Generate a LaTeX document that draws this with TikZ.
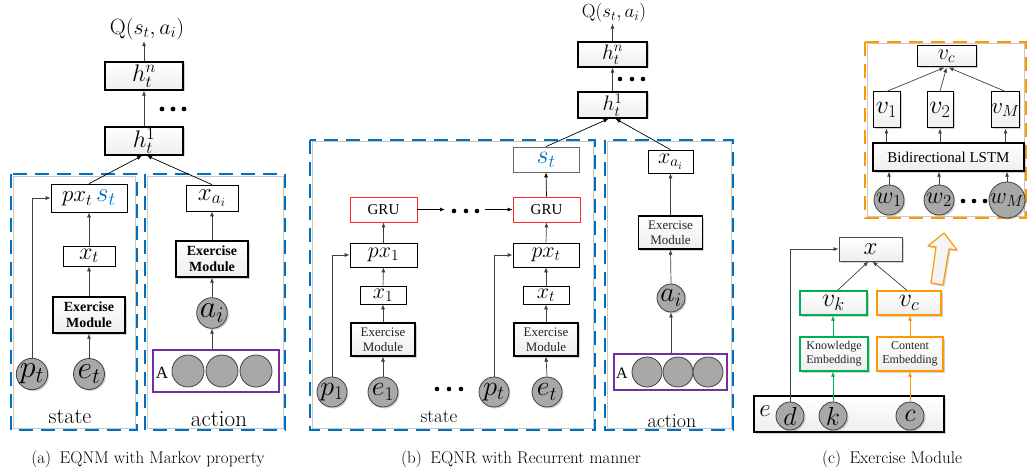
\RequirePackage{fix-cm}
\documentclass[tikz,border=0pt]{standalone}
\usepackage{fontspec}
\newfontfamily\tnr{Liberation Serif}
\usetikzlibrary{arrows.meta,shadows}
\definecolor{dblue}{RGB}{0,112,192}
\definecolor{dorange}{RGB}{255,153,0}
\definecolor{dgreen}{RGB}{0,176,80}
\definecolor{dpurple}{RGB}{112,48,160}
\definecolor{lgray}{RGB}{200,200,200}
\definecolor{cgray}{RGB}{168,168,168}
\tikzset{
  fs/.style={font=\fontsize{#1}{#1}\selectfont},
  grad/.style={top color=white, bottom color=gray!13},
  shd/.style={drop shadow={shadow xshift=1.5pt, shadow yshift=-1.5pt, opacity=0.35}},
  hbox/.style={draw=black, line width=1.4pt, grad, shd, inner sep=0pt},
  pbox/.style={draw=black, line width=0.7pt, fill=white, inner sep=0pt},
  emb/.style={hbox, align=center, font=\tnr\bfseries\fontsize{14}{16}\selectfont, minimum width=72, minimum height=36},
  emn/.style={draw=black, line width=1.2pt, grad, shd, inner sep=0pt, align=center, text=black!85, font=\tnr\fontsize{13}{15}\selectfont, minimum width=64, minimum height=33},
  cir/.style={circle, draw=black!75, line width=0.8pt, fill=cgray, inner sep=0pt, minimum size=#1, shd},
  cirp/.style={circle, draw=black!75, line width=0.8pt, fill=cgray, inner sep=0pt, minimum size=#1},
  arr/.style={-{Latex[length=5pt,width=4pt]}, line width=0.7pt, draw=black!75},
  blued/.style={draw=dblue, line width=1.6pt, dash pattern=on 14pt off 8pt},
  oranged/.style={draw=dorange, line width=1.6pt, dash pattern=on 14pt off 8pt},
  grayl/.style={draw=lgray, line width=1pt},
  gru/.style={draw=red!85, line width=0.9pt, fill=white, inner sep=0pt, font=\tnr\fontsize{15}{15}\selectfont, minimum width=67, minimum height=25},
  dotc/.style={fill=black},
}
\begin{document}
\begin{tikzpicture}[x=1pt,y=-1pt]
\useasboundingbox (0,0) rectangle (1028,476);

% ================= panel (a) =================
\draw[grayl] (13,176) rectangle (135,428);
\draw[blued] (11,174) rectangle (137,430);
\draw[grayl] (147,176) rectangle (283,428);
\draw[blued] (145,174) rectangle (285,430);

\node[hbox, minimum width=78, minimum height=28, fs=24] (hna) at (144,76) {$h_t^n$};
\node[hbox, minimum width=78, minimum height=28, fs=24] (h1a) at (144,141) {$h_t^1$};
\node[fs=22, inner sep=1pt] (Qa) at (147,29) {$\mathrm{Q}(s_t,a_i)$};
\draw[arr] (hna.north) -- (hna.north |- Qa.south);
\draw[arr] (h1a.north) -- (hna.south);
\foreach \x in {162,173,184} \fill[dotc] (\x,109) circle (2.4pt);

\node[pbox, minimum width=76, minimum height=28, fs=23] (pxa) at (89,198) {$px_t$\,{\fontsize{27}{27}\selectfont$\color{dblue}s_t$}};
\node[pbox, minimum width=52, minimum height=20, fs=24] (xta) at (89,256) {$x_t$};
\node[emb] (EMa) at (89,315) {Exercise\\Module};
\node[cir=31, fs=32] (pta) at (32,374) {$p_t$};
\node[cir=31, fs=32] (eta) at (89,374) {$e_t$};
\node[fs=22] (sta) at (70,417) {state};

\node[pbox, minimum width=52, minimum height=26, fs=25] (xaia) at (212,198) {$x_{a_i}$};
\node[emb] (EMaa) at (212,259) {Exercise\\Module};
\node[cir=30, fs=32] (aia) at (212,313) {$a_i$};
\node[draw=dpurple, line width=1.5pt, fill=white, minimum width=126, minimum height=42, inner sep=0pt] (Aa) at (216,371) {};
\node[font=\tnr\fontsize{17}{17}\selectfont] (Aal) at (162,373) {A};
\node[cirp=32] (a1) at (188,371) {};
\node[cirp=32] (a2) at (222,371) {};
\node[cirp=32] (a3) at (256,371) {};
\node[fs=23] (aca) at (219,419) {action};

\draw[arr] (eta.north) -- (EMa.south);
\draw[arr] (EMa.north) -- (xta.south);
\draw[arr] (xta.north) -- (pxa.south);
\draw[arr] (pta.north) |- (pxa.west);
\draw[arr, draw=black] (pxa.north) -- ([xshift=-2pt]h1a.south);
\draw[arr] (Aa.north -| aia.south) -- (aia.south);
\draw[arr] (aia.north) -- (EMaa.south);
\draw[arr] (EMaa.north) -- (xaia.south);
\draw[arr, draw=black] (xaia.north) -- ([xshift=3pt]h1a.south);

\node[fs=17] (capa) at (148,459) {(a)\enspace EQNM with Markov property};

% ================= panel (b) =================
\draw[grayl] (312,142) rectangle (593,428);
\draw[blued] (310,140) rectangle (595,430);
\draw[grayl] (607,142) rectangle (731,428);
\draw[blued] (605,140) rectangle (733,430);

\node[hbox, minimum width=69, minimum height=25, fs=21] (hnb) at (612.5,54.5) {$h_t^n$};
\node[hbox, minimum width=69, minimum height=26, fs=21] (h1b) at (612.5,105) {$h_t^1$};
\node[fs=19, inner sep=1pt] (Qb) at (614,13) {$\mathrm{Q}(s_t,a_i)$};
\draw[arr] (hnb.north) -- (hnb.north |- Qb.south);
\draw[arr] (h1b.north) -- (hnb.south);
\foreach \x in {620,632,643} \fill[dotc] (\x,79) circle (2.3pt);

\node[draw=black!60, line width=0.8pt, fill=white, inner sep=0pt, minimum width=66, minimum height=25, fs=26] (stb) at (546,159.5) {$\color{dblue}s_t$};
\node[gru] (gru1) at (383.5,209.5) {GRU};
\node[gru] (gru2) at (546.5,209.5) {GRU};
\coordinate (g1e) at (445,209.5);
\coordinate (g2s) at (485,209.5);
\foreach \x in {454,466,477} \fill[dotc] (\x,211) circle (2.3pt);
\node[pbox, minimum width=67, minimum height=24, fs=22] (px1) at (383.5,255) {$px_1$};
\node[pbox, minimum width=46, minimum height=18, fs=22] (x1) at (383,295) {$x_1$};
\node[emn] (EMb1) at (383,339.5) {Exercise\\Module};
\node[cir=30, fs=28] (p1) at (332,392) {$p_1$};
\node[cir=30, fs=28] (e1) at (383,392) {$e_1$};
\foreach \x in {437,449,461} \fill[dotc] (\x,389) circle (2.3pt);
\node[cir=30, fs=28] (ptb) at (494,392) {$p_t$};
\node[cir=30, fs=28] (etb) at (547,392) {$e_t$};
\node[pbox, minimum width=66, minimum height=24, fs=22] (pxtb) at (546,255) {$px_t$};
\node[pbox, minimum width=46, minimum height=18, fs=22] (xtb) at (546,295) {$x_t$};
\node[emn] (EMb2) at (546,339.5) {Exercise\\Module};
\node[fs=19] (stlb) at (439,417) {state};

\draw[arr] (e1.north) -- (EMb1.south);
\draw[arr] (EMb1.north) -- (x1.south);
\draw[arr] (x1.north) -- (px1.south);
\draw[arr] (px1.north) -- (gru1.south);
\draw[arr] (p1.north) |- (px1.west);
\draw[arr] (etb.north) -- (EMb2.south);
\draw[arr] (EMb2.north) -- (xtb.south);
\draw[arr] (xtb.north) -- (pxtb.south);
\draw[arr] (pxtb.north) -- (gru2.south);
\draw[arr] (ptb.north) |- (pxtb.west);
\draw[arr, draw=black] (gru1.east) -- (g1e);
\draw[arr, draw=black] (g2s) -- (gru2.west);
\draw[arr, draw=black] (gru2.north) -- (stb.south);
\draw[arr, draw=black] (stb.north) -- ([xshift=-4pt]h1b.south);

\node[pbox, minimum width=45, minimum height=23, fs=22] (xaib) at (670.5,161.5) {$x_{a_i}$};
\node[emn] (EMbb) at (670.5,232.5) {Exercise\\Module};
\node[cir=28, fs=28] (aib) at (671,298) {$a_i$};
\node[draw=dpurple, line width=1.5pt, fill=white, minimum width=113, minimum height=36, inner sep=0pt] (Ab) at (670.5,372) {};
\node[font=\tnr\fontsize{16}{16}\selectfont] (Abl) at (622,373) {A};
\node[cirp=30] (b1) at (647,372) {};
\node[cirp=30] (b2) at (678,372) {};
\node[cirp=30] (b3) at (708,372) {};
\node[fs=20] (acb) at (672,421) {action};

\draw[arr] (Ab.north -| aib.south) -- (aib.south);
\draw[arr] (aib.north) -- (EMbb.south);
\draw[arr] (EMbb.north) -- (xaib.south);
\draw[arr, draw=black] (xaib.north) -- ([xshift=3pt]h1b.south);

\node[fs=17] (capb) at (521,459) {(b)\enspace EQNR with Recurrent manner};

% ================= panel (c) =================
\draw[grayl] (867,44) rectangle (1024,216);
\draw[oranged] (865,42) rectangle (1026,218);

\node[hbox, line width=1pt, minimum width=59, minimum height=21, fs=22] (vct) at (946.5,56.5) {$v_c$};
\node[hbox, line width=1pt, minimum width=27, minimum height=36, fs=26] (v1) at (886.5,110) {$v_1$};
\node[hbox, line width=1pt, minimum width=26, minimum height=36, fs=26] (v2) at (940,110) {$v_2$};
\node[hbox, line width=1pt, minimum width=27, minimum height=36, fs=23] (vM) at (1005.5,110) {$v_M$};
\node[hbox, minimum width=151, minimum height=28, font=\tnr\fontsize{15}{15}\selectfont] (bil) at (948.5,157) {Bidirectional LSTM};
\node[cir=30, fs=24] (w1) at (889,200) {$w_1$};
\node[cir=30, fs=24] (w2) at (939,200) {$w_2$};
\node[cir=30, fs=23] (wM) at (1007,200) {$w_M$};
\foreach \x in {963,974,985} \fill[dotc] (\x,201) circle (2.3pt);

\draw[arr] (w1.north) -- (w1.north |- bil.south);
\draw[arr] (w2.north) -- (w2.north |- bil.south);
\draw[arr] (wM.north) -- (wM.north |- bil.south);
\draw[arr] (v1.south |- bil.north) -- (v1.south);
\draw[arr] (v2.south |- bil.north) -- (v2.south);
\draw[arr] (vM.south |- bil.north) -- (vM.south);
\draw[arr] (v1.north) -- ([xshift=-2pt]vct.south);
\draw[arr] (v2.north) -- ([xshift=0pt]vct.south);
\draw[arr] (vM.north) -- ([xshift=2pt]vct.south);

% hollow arrow
\draw[dorange, line width=1.2pt, line join=round, fill=gray!8, shd]
  (944,233) -- (957,250) -- (949,249) -- (943,285) -- (931,283) -- (936,247) -- (928,246) -- cycle;

\node[hbox, draw=black!70, line width=0.9pt, minimum width=63, minimum height=24, fs=25] (xc) at (870.5,249) {$x$};
\node[hbox, draw=dgreen, line width=1.2pt, minimum width=67, minimum height=24, fs=26] (vk) at (833.5,303) {$v_k$};
\node[hbox, draw=dorange, line width=1.2pt, minimum width=64, minimum height=24, fs=26] (vcc) at (909,303) {$v_c$};
\node[hbox, draw=dgreen, line width=1.2pt, minimum width=68, minimum height=34, align=center, text=black!85, font=\tnr\fontsize{12}{14}\selectfont] (KE) at (834,354) {Knowledge\\Embedding};
\node[hbox, draw=dorange, line width=1.2pt, minimum width=66, minimum height=34, align=center, text=black!85, font=\tnr\fontsize{12}{14}\selectfont] (CE) at (910,354) {Content\\Embedding};
\node[hbox, minimum width=190, minimum height=36] (ebox) at (849,414) {};
\node[fs=25] (el) at (765,411) {$e$};
\node[cir=28, fs=26] (dc) at (790,416) {$d$};
\node[cir=28, fs=26] (kc) at (833,416) {$k$};
\node[cir=28, fs=26] (cc) at (910,416) {$c$};

\draw[arr] (dc.north) |- (xc.west);
\draw[arr, draw=dgreen] (kc.north) -- (KE.south -| kc.north);
\draw[arr, draw=dgreen] (KE.north -| kc.north) -- (vk.south -| kc.north);
\draw[arr, draw=dorange] (cc.north) -- (CE.south -| cc.north);
\draw[arr, draw=dorange] (CE.north -| cc.north) -- (vcc.south -| cc.north);
\draw[arr] ([xshift=4pt]vk.north) -- ([xshift=-2pt]xc.south);
\draw[arr] ([xshift=-2pt]vcc.north) -- ([xshift=2pt]xc.south);

\node[fs=17] (capc) at (892,459) {(c)\enspace Exercise Module};
\end{tikzpicture}
\end{document}
